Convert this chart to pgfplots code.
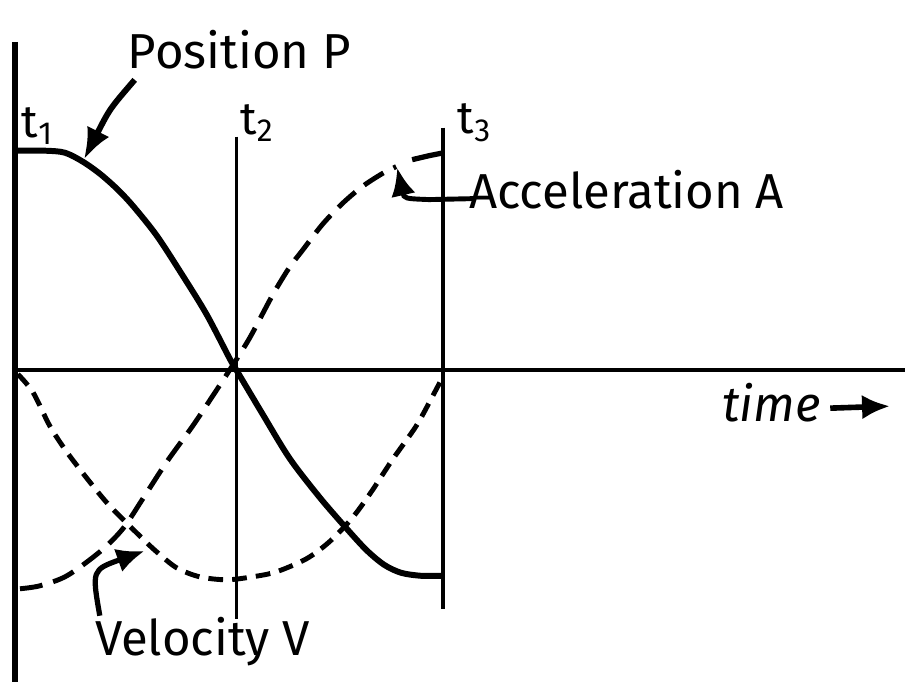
\documentclass[border=0pt]{standalone}
\usepackage{pgfplots}
\pgfplotsset{compat=1.18}
\usepackage{fontspec}
\setmainfont{Fira Sans}
\usetikzlibrary{arrows.meta}
\begin{document}
\begin{tikzpicture}
\begin{axis}[
  scale only axis, width=9.07cm, height=6.83cm,
  xmin=0, xmax=907, ymin=-312, ymax=371,
  hide axis, clip=false,
]
% frame lines
\addplot[black, line width=1.7pt] coordinates {(15,329) (15,-312)};
\addplot[black, line width=1.1pt] coordinates {(12,0) (907,0)};
\addplot[black, line width=1.1pt] coordinates {(237,234) (237,-249)};
\addplot[black, line width=1.2pt] coordinates {(444,243) (444,-239)};
% Position P
\addplot[black, line width=1.7pt, smooth] coordinates {
(15,220) (45,220) (65,218) (83,209) (100,197) (117,182) (133,165)
(157,135) (183,95) (207,56) (230,12) (237,0) (262,-42) (290,-88)
(320,-127) (345,-156) (367,-180) (385,-195) (402,-203) (422,-206) (443,-206)};
% Velocity V
\addplot[black, line width=1.4pt, dash pattern=on 4.2pt off 2.6pt, smooth] coordinates {
(18,-4) (33,-22) (50,-56) (67,-82) (90,-112) (110,-136) (140,-166) (157,-182)
(177,-198) (200,-207) (227,-210) (253,-207) (277,-202) (307,-189) (330,-172)
(353,-148) (372,-122) (393,-90) (417,-56) (433,-27) (443,-8)};
% Acceleration A
\addplot[black, line width=1.4pt, dash pattern=on 6.5pt off 3.2pt, smooth] coordinates {
(20,-219) (40,-216) (67,-206) (100,-182) (123,-159) (143,-129) (167,-92)
(193,-56) (213,-26) (230,0) (250,32) (273,75) (290,103)
(303,120) (323,146) (343,167) (363,184) (383,197) (397,204)};
\addplot[black, line width=1.5pt] coordinates {(413,211) (430,215) (445,218)};
% annotations
\path (axis cs:0,-312) rectangle (axis cs:907,371);
\node[font=\fontsize{14}{16}\selectfont] at (axis cs:240,321) {Position P};
\node[font=\fontsize{13}{15}\selectfont] at (axis cs:38,245) {t\textsubscript{1}};
\node[font=\fontsize{13}{15}\selectfont] at (axis cs:258,248) {t\textsubscript{2}};
\node[font=\fontsize{13}{15}\selectfont] at (axis cs:476,248) {t\textsubscript{3}};
\node[font=\fontsize{14}{16}\selectfont] at (axis cs:628,181) {Acceleration A};
\node[font=\fontsize{14}{16}\selectfont\itshape] at (axis cs:773,-32) {time};
\draw[line width=1.6pt, -{Latex[length=8pt,width=7pt]}] (axis cs:832,-38) -- (axis cs:892,-36);
\node[font=\fontsize{14}{16}\selectfont] at (axis cs:203,-272) {Velocity V};
\draw[line width=1.7pt, -{Latex[length=9pt,width=7pt]}] (axis cs:135,291) .. controls (axis cs:110,262) .. (axis cs:84,211);
\draw[line width=1.4pt, -{Latex[length=8pt,width=7pt]}] (axis cs:476,172) -- (axis cs:430,171) .. controls (axis cs:405,172) .. (axis cs:398,203);
\draw[line width=1.5pt, -{Latex[length=8pt,width=7pt]}] (axis cs:100,-246) .. controls (axis cs:92,-200) .. (axis cs:145,-181);
\end{axis}
\end{tikzpicture}
\end{document}
